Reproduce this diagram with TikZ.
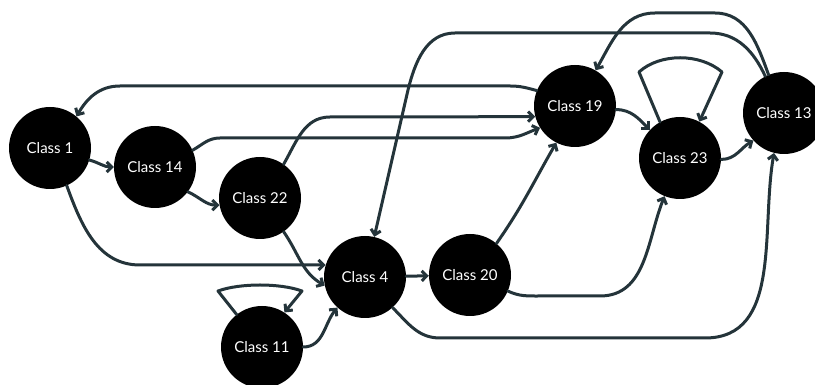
\documentclass[tikz,border=0pt]{standalone}
\usepackage{fontspec}
\setmainfont{Lato}
\usepackage{tikz}
\usetikzlibrary{arrows.meta}
\definecolor{kante}{HTML}{24343A}

\begin{document}
\begin{tikzpicture}[x=1pt,y=1pt,
    klasse/.style={circle,fill=black,minimum size=82pt,inner sep=0pt,
      text=white,font=\fontsize{15}{17}\selectfont},
    pfeil/.style={draw=kante,line width=3pt,line cap=round,line join=round,
      -{Straight Barb[length=5pt,width=10pt]}}]
  \clip (0,0) rectangle (815,385);

  % Klassen
  \node[klasse] (c1)  at (50,237)  {Class 1};
  \node[klasse] (c14) at (155,218) {Class 14};
  \node[klasse] (c22) at (260,187) {Class 22};
  \node[klasse] (c4)  at (365,108) {Class 4};
  \node[klasse] (c20) at (470,110) {Class 20};
  \node[klasse] (c11) at (262,38)  {Class 11};
  \node[klasse] (c19) at (575,279) {Class 19};
  \node[klasse] (c23) at (680,227) {Class 23};
  \node[klasse] (c13) at (784,272) {Class 13};

  % Kanten links
  \draw[pfeil] (c1.-17) to[out=-15,in=180] (c14.180);
  \draw[pfeil] (c14.-37) to[out=-25,in=180] (c22.190);
  \draw[pfeil] (c1.-66) to[out=-70,in=180] (140,120) -- (c4.163);
  \draw[pfeil] (c22.-55) to[out=-55,in=150] (c4.192);
  \draw[pfeil] (c11.0) to[out=0,in=230] (c4.228);
  \draw[pfeil] (c11.128) -- (218,94) .. controls (240,102) and (280,102) .. (302,94) -- (c11.57);
  \draw[pfeil] (c4) -- (c20);

  % Kanten nach Class 19 und Class 1
  \draw[pfeil] (c14.24) to[out=30,in=180] (220,247) -- (505,247) to[out=0,in=200] (c19.212);
  \draw[pfeil] (c22.55) to[out=60,in=180] (330,268) -- (c19.195);
  \draw[pfeil] (c20.50) to[out=55,in=240] (c19.243);
  \draw[pfeil] (c19.158) to[out=165,in=0] (510,299) -- (120,299) to[out=180,in=60] (c1.50);

  % Kanten rechts
  \draw[pfeil] (c19.-5) to[out=0,in=135] (c23.137);
  \draw[pfeil] (c23.119) -- (639,313) .. controls (660,332) and (700,332) .. (722,313) -- (c23.62);
  \draw[pfeil] (c23.-2) to[out=0,in=210] (c13.222);
  \draw[pfeil] (c20.-23) to[out=-25,in=180] (540,89) -- (600,89) to[out=0,in=-112] (c23.248);
  \draw[pfeil] (c4.-48) to[out=-45,in=180] (440,47) -- (705,47) to[out=0,in=-100] (c13.256);
  \draw[pfeil] (c13.117) to[out=115,in=0] (710,352) -- (455,352) to[out=180,in=76] (408,295) -- (c4.77);
  \draw[pfeil] (c13.112) to[out=110,in=0] (715,372) -- (655,372) to[out=180,in=60] (c19.60);

\end{tikzpicture}
\end{document}
